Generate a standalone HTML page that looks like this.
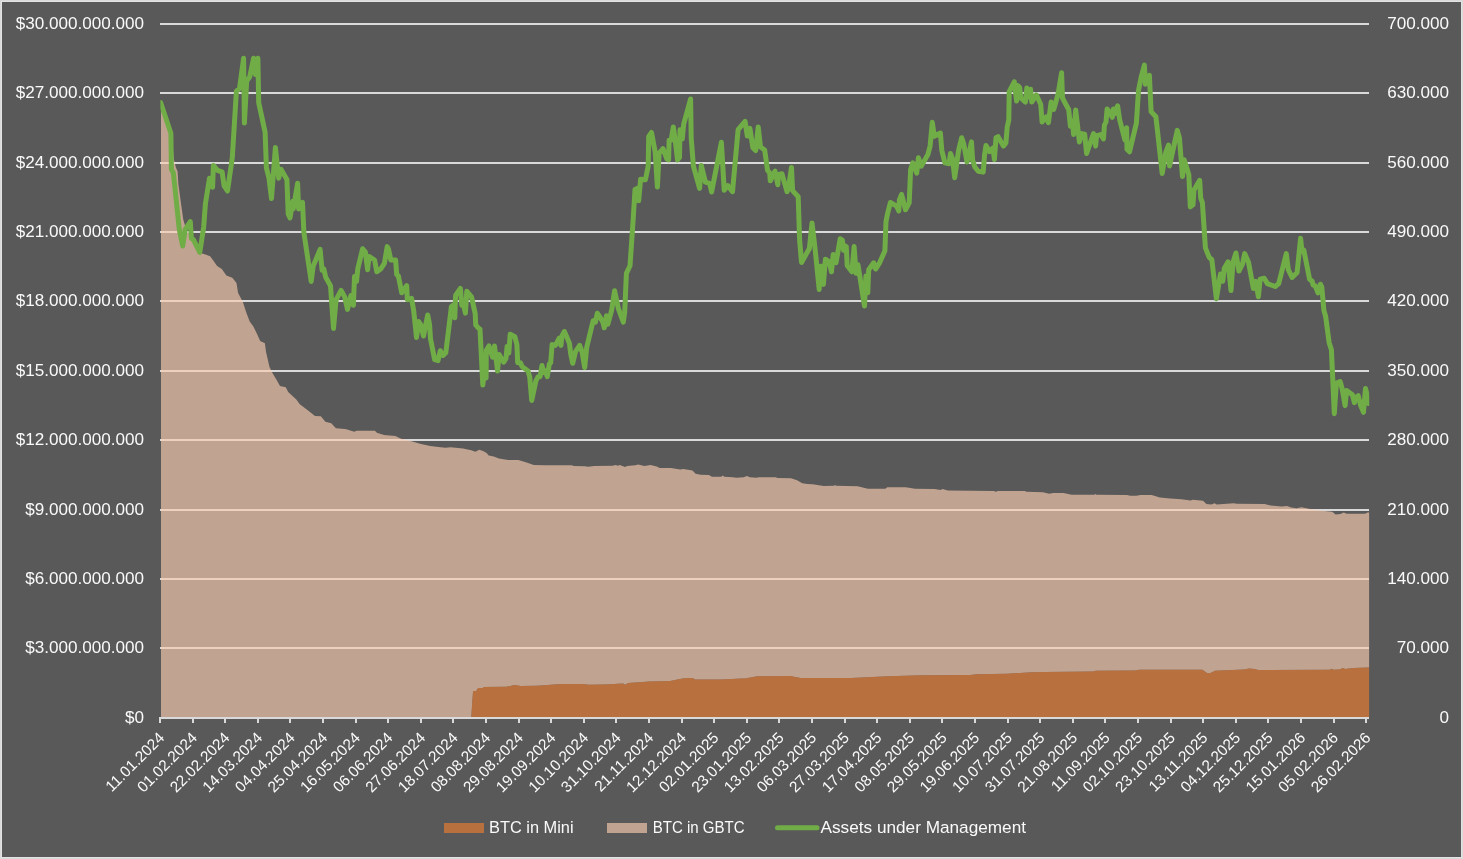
<!DOCTYPE html>
<html><head><meta charset="utf-8"><title>GBTC</title>
<style>
html,body{margin:0;padding:0;background:#595959;overflow:hidden}
svg{display:block;will-change:transform}
text{font-family:"Liberation Sans",sans-serif;font-size:17.1px;fill:#fafafa}
text.d{font-size:15.4px}
</style></head><body>
<svg width="1463" height="859" viewBox="0 0 1463 859">
<rect x="0" y="0" width="1463" height="859" fill="#595959"/>
<rect x="0.5" y="0.5" width="1462" height="858" fill="none" stroke="#dadada" stroke-width="1"/>
<rect x="1.5" y="1.5" width="1460" height="856" fill="none" stroke="#e3e3e3" stroke-width="1"/>
<defs><clipPath id="pc"><rect x="160.4" y="10" width="1208.8" height="708"/></clipPath></defs>
<g stroke="#d9d9d9" stroke-width="2">
<line x1="160.0" y1="24.00" x2="1369.0" y2="24.00"/>
<line x1="160.0" y1="93.00" x2="1369.0" y2="93.00"/>
<line x1="160.0" y1="163.00" x2="1369.0" y2="163.00"/>
<line x1="160.0" y1="232.00" x2="1369.0" y2="232.00"/>
<line x1="160.0" y1="301.00" x2="1369.0" y2="301.00"/>
<line x1="160.0" y1="371.00" x2="1369.0" y2="371.00"/>
<line x1="160.0" y1="440.00" x2="1369.0" y2="440.00"/>
<line x1="160.0" y1="510.00" x2="1369.0" y2="510.00"/>
<line x1="160.0" y1="579.00" x2="1369.0" y2="579.00"/>
<line x1="160.0" y1="648.00" x2="1369.0" y2="648.00"/>
</g>
<polygon fill="#f8cbad" fill-opacity="0.65" points="161.0,103.5 166.0,119.0 171.5,134.0 173.8,159.0 175.9,167.4 177.6,171.6 178.4,184.2 181.2,205.1 183.3,219.8 186.8,231.5 191.7,235.5 195.7,246.5 199.7,252.8 205.5,254.4 210.1,256.3 213.6,261.0 217.1,266.1 221.8,269.1 226.4,275.4 232.3,277.7 236.5,283.1 238.1,293.1 242.8,301.7 246.2,312.2 249.7,321.5 253.2,326.2 256.7,333.2 260.2,340.9 264.9,343.2 266.0,351.8 269.5,367.0 273.0,373.9 276.5,379.8 280.0,386.1 285.8,387.2 288.2,392.1 296.3,399.6 299.8,404.2 306.8,409.6 315.0,415.9 320.8,416.3 325.4,421.7 331.3,423.3 335.9,428.2 345.0,429.1 346.2,429.3 354.4,431.8 356.4,430.8 374.9,430.8 376.9,432.8 384.1,434.9 395.4,435.9 400.5,438.5 410.7,441.0 420.0,443.7 430.2,445.9 440.5,447.2 445.6,447.8 450.7,447.2 463.0,448.6 471.2,450.2 475.3,451.7 479.4,449.8 483.5,451.3 486.6,452.9 488.7,455.4 493.8,456.4 498.9,458.4 508.1,459.9 518.4,460.1 526.6,462.5 533.8,465.0 545.0,465.2 571.7,465.2 573.7,466.0 585.0,466.2 588.1,466.8 594.3,466.0 612.7,465.8 615.8,465.0 617.8,465.8 619.9,465.0 625.0,467.1 627.1,466.0 635.3,465.2 638.2,464.4 644.4,465.9 650.5,464.9 656.7,466.5 659.7,467.9 671.0,468.1 680.2,469.6 683.3,469.0 692.5,470.6 695.6,473.7 700.7,474.7 708.9,475.1 712.0,476.7 721.2,476.7 722.7,475.5 724.3,476.7 732.5,477.2 736.6,477.8 743.8,477.2 746.9,476.1 750.0,477.2 756.1,477.8 759.2,477.2 775.6,477.2 777.6,478.0 791.0,478.2 797.1,480.2 802.2,483.3 807.4,484.1 812.5,484.3 823.8,486.0 834.0,485.8 835.0,485.0 836.1,485.8 857.6,486.2 867.9,488.8 885.3,488.8 887.3,487.2 905.8,487.2 915.0,488.8 934.4,489.0 940.5,490.0 942.6,489.0 947.7,490.6 993.8,491.0 995.9,491.8 997.9,491.0 1024.6,491.0 1026.6,491.8 1043.0,492.2 1049.2,493.7 1053.3,493.1 1063.5,493.1 1071.7,494.7 1094.3,494.7 1095.3,493.9 1096.3,494.7 1127.1,494.9 1130.2,495.7 1136.3,495.7 1140.4,494.9 1151.7,495.1 1159.9,497.6 1170.2,498.4 1181.4,499.2 1190.7,500.4 1192.7,499.8 1203.0,500.7 1206.4,503.9 1211.2,504.4 1214.6,503.2 1216.7,504.4 1233.7,503.2 1236.5,503.8 1264.5,503.9 1270.7,505.5 1281.6,506.6 1287.1,506.0 1291.2,507.6 1296.6,508.3 1301.4,507.2 1310.3,509.0 1324.7,511.0 1332.2,511.7 1335.6,514.4 1340.4,514.0 1343.8,512.4 1346.5,513.7 1365.0,513.7 1367.7,512.4 1369.1,512.4 1369.1,667.4 1369.1,667.4 1353.4,667.9 1345.2,669.0 1342.9,668.1 1339.4,669.5 1333.6,669.7 1331.3,668.8 1330.1,669.7 1258.1,670.0 1254.6,669.0 1248.8,668.6 1244.2,669.5 1215.1,670.7 1210.5,673.0 1207.0,673.0 1202.3,669.7 1139.6,669.7 1134.9,670.4 1095.4,670.7 1093.1,671.4 1045.0,671.9 1032.1,672.2 1007.5,673.8 976.7,674.2 970.5,675.1 923.4,675.3 888.5,676.3 851.6,677.9 800.4,677.9 790.1,676.1 757.3,676.3 745.0,678.5 742.1,678.5 721.6,679.6 694.9,679.6 692.9,678.1 686.7,677.9 682.6,678.5 670.3,681.0 649.8,681.6 628.3,683.1 625.2,684.7 623.1,683.5 604.7,684.5 588.3,684.7 584.2,683.9 561.6,684.1 537.0,685.7 520.6,686.1 514.5,685.1 506.3,686.8 483.8,686.9 482.9,688.0 478.2,688.0 476.1,691.0 473.1,691.0 472.4,700.0 471.3,717.0 471.3,717.0 161.0,717.0"/>
<polygon fill="#ed7d31" fill-opacity="0.65" points="471.3,717.0 472.4,700.0 473.1,691.0 476.1,691.0 478.2,688.0 482.9,688.0 483.8,686.9 506.3,686.8 514.5,685.1 520.6,686.1 537.0,685.7 561.6,684.1 584.2,683.9 588.3,684.7 604.7,684.5 623.1,683.5 625.2,684.7 628.3,683.1 649.8,681.6 670.3,681.0 682.6,678.5 686.7,677.9 692.9,678.1 694.9,679.6 721.6,679.6 742.1,678.5 745.0,678.5 757.3,676.3 790.1,676.1 800.4,677.9 851.6,677.9 888.5,676.3 923.4,675.3 970.5,675.1 976.7,674.2 1007.5,673.8 1032.1,672.2 1045.0,671.9 1093.1,671.4 1095.4,670.7 1134.9,670.4 1139.6,669.7 1202.3,669.7 1207.0,673.0 1210.5,673.0 1215.1,670.7 1244.2,669.5 1248.8,668.6 1254.6,669.0 1258.1,670.0 1330.1,669.7 1331.3,668.8 1333.6,669.7 1339.4,669.5 1342.9,668.1 1345.2,669.0 1353.4,667.9 1369.1,667.4 1369.1,717 471.3,717"/>
<g stroke="#d9d9d9" stroke-width="2">
<line x1="159.0" y1="718" x2="1369.0" y2="718"/>
<line x1="160.0" y1="717" x2="160.0" y2="723"/>
<line x1="193.0" y1="717" x2="193.0" y2="723"/>
<line x1="225.0" y1="717" x2="225.0" y2="723"/>
<line x1="258.0" y1="717" x2="258.0" y2="723"/>
<line x1="290.0" y1="717" x2="290.0" y2="723"/>
<line x1="323.0" y1="717" x2="323.0" y2="723"/>
<line x1="356.0" y1="717" x2="356.0" y2="723"/>
<line x1="388.0" y1="717" x2="388.0" y2="723"/>
<line x1="421.0" y1="717" x2="421.0" y2="723"/>
<line x1="453.0" y1="717" x2="453.0" y2="723"/>
<line x1="486.0" y1="717" x2="486.0" y2="723"/>
<line x1="519.0" y1="717" x2="519.0" y2="723"/>
<line x1="551.0" y1="717" x2="551.0" y2="723"/>
<line x1="584.0" y1="717" x2="584.0" y2="723"/>
<line x1="616.0" y1="717" x2="616.0" y2="723"/>
<line x1="649.0" y1="717" x2="649.0" y2="723"/>
<line x1="682.0" y1="717" x2="682.0" y2="723"/>
<line x1="714.0" y1="717" x2="714.0" y2="723"/>
<line x1="747.0" y1="717" x2="747.0" y2="723"/>
<line x1="779.0" y1="717" x2="779.0" y2="723"/>
<line x1="812.0" y1="717" x2="812.0" y2="723"/>
<line x1="845.0" y1="717" x2="845.0" y2="723"/>
<line x1="877.0" y1="717" x2="877.0" y2="723"/>
<line x1="910.0" y1="717" x2="910.0" y2="723"/>
<line x1="942.0" y1="717" x2="942.0" y2="723"/>
<line x1="975.0" y1="717" x2="975.0" y2="723"/>
<line x1="1008.0" y1="717" x2="1008.0" y2="723"/>
<line x1="1040.0" y1="717" x2="1040.0" y2="723"/>
<line x1="1073.0" y1="717" x2="1073.0" y2="723"/>
<line x1="1105.0" y1="717" x2="1105.0" y2="723"/>
<line x1="1138.0" y1="717" x2="1138.0" y2="723"/>
<line x1="1171.0" y1="717" x2="1171.0" y2="723"/>
<line x1="1203.0" y1="717" x2="1203.0" y2="723"/>
<line x1="1236.0" y1="717" x2="1236.0" y2="723"/>
<line x1="1268.0" y1="717" x2="1268.0" y2="723"/>
<line x1="1301.0" y1="717" x2="1301.0" y2="723"/>
<line x1="1334.0" y1="717" x2="1334.0" y2="723"/>
<line x1="1366.0" y1="717" x2="1366.0" y2="723"/>
</g>
<polyline fill="none" stroke="#70ad47" stroke-width="5" stroke-linejoin="round" stroke-linecap="round" clip-path="url(#pc)" points="160.6,102.5 170.9,133.3 171.4,169.2 173.4,173.0 179.3,229.4 182.7,246.0 185.2,229.4 190.3,221.7 191.4,238.3 193.4,239.6 199.8,252.4 203.7,226.8 205.4,203.8 209.5,178.2 212.6,187.1 213.4,165.4 217.7,170.5 222.1,171.8 224.1,185.8 227.5,191.0 232.3,157.7 236.4,91.1 239.5,88.5 243.6,58.3 244.4,123.1 246.7,80.9 249.7,77.0 253.6,58.3 255.4,74.4 257.9,58.3 258.7,102.6 265.1,132.1 266.4,167.9 269.0,178.2 271.5,198.6 275.4,147.4 278.7,178.2 281.0,169.2 286.9,179.4 288.2,214.0 290.0,217.9 292.8,201.2 293.3,208.9 297.6,183.3 298.6,208.9 302.5,202.5 303.9,232.6 311.2,281.5 313.2,266.1 320.1,249.4 322.1,270.3 323.8,268.9 325.7,277.3 330.5,285.7 333.5,328.4 336.1,299.7 341.1,290.4 344.7,296.9 347.5,309.4 350.9,295.5 353.4,305.3 354.5,276.5 356.5,281.5 357.8,268.9 362.6,248.8 365.4,252.2 367.6,269.8 369.0,256.4 374.6,260.0 376.8,271.7 380.8,268.9 384.4,263.4 387.2,246.6 388.6,249.4 390.8,260.0 395.6,260.0 396.7,274.5 398.4,275.9 401.7,292.7 406.7,285.7 407.3,299.7 411.5,298.3 413.7,310.8 416.5,337.4 418.7,321.5 420.7,324.8 423.5,336.0 427.7,315.0 429.6,324.8 430.5,338.8 434.7,359.7 438.0,360.6 440.3,350.8 443.0,355.5 445.8,352.7 451.4,306.6 452.8,305.3 454.8,317.8 455.6,295.5 460.4,288.5 461.8,305.3 463.4,303.9 465.4,313.1 466.8,291.3 471.5,296.9 475.2,313.6 475.7,324.8 478.0,327.6 480.0,329.2 482.8,385.1 485.0,365.5 486.1,378.1 486.3,350.2 488.9,346.0 492.6,357.2 494.5,346.0 497.6,371.1 499.0,354.4 503.7,362.2 506.0,358.5 507.1,346.5 508.8,353.0 510.2,334.2 514.9,336.8 516.9,344.6 517.7,362.7 520.5,362.7 521.9,366.4 528.0,371.1 529.7,376.7 531.7,400.4 535.9,380.9 538.1,376.7 540.1,376.7 542.0,365.5 543.7,372.5 545.1,370.6 547.3,376.7 549.3,364.1 550.7,362.7 552.1,344.6 555.4,345.4 559.1,338.4 561.0,345.4 561.8,336.2 564.4,331.5 569.4,343.2 570.8,354.4 572.7,363.3 575.5,351.6 579.7,345.4 582.0,351.6 584.7,367.5 586.7,347.4 593.1,320.8 595.4,322.2 597.3,313.3 600.1,317.2 602.9,322.2 604.3,327.8 606.5,315.8 607.9,324.2 611.8,309.7 614.6,290.7 618.3,308.3 623.3,322.2 624.7,312.5 626.4,273.4 630.0,265.8 633.1,220.3 635.0,189.6 637.8,188.2 638.7,200.7 640.6,179.2 645.4,179.8 648.2,166.0 648.7,136.7 651.5,132.5 655.2,152.0 657.4,187.0 659.1,153.4 663.0,148.7 666.9,159.0 668.6,159.9 669.1,140.3 671.1,140.3 673.3,126.9 675.3,140.9 677.5,159.9 679.5,157.6 680.0,129.7 682.3,138.9 683.7,124.1 690.6,99.0 691.2,138.1 693.4,166.0 699.6,188.4 701.3,165.4 705.4,182.2 709.6,183.3 711.6,192.0 721.4,142.3 722.8,166.0 724.2,190.3 727.8,185.6 732.5,191.7 738.1,129.7 745.1,121.3 747.3,136.1 749.9,128.3 752.9,147.8 755.7,150.6 758.2,126.9 760.5,147.0 764.7,150.1 767.5,170.2 769.7,173.0 770.3,180.8 775.0,171.0 777.8,184.7 778.6,174.4 782.0,173.8 787.0,191.7 788.4,188.4 791.5,167.4 792.6,190.6 798.2,196.7 799.6,240.0 801.5,262.4 809.4,248.4 812.0,222.9 815.0,248.0 819.2,289.4 820.6,266.2 822.0,266.2 823.4,284.4 825.4,259.2 829.0,261.5 831.5,271.8 833.2,254.5 836.0,262.8 840.2,238.8 842.4,240.2 843.5,250.3 844.1,245.3 846.3,246.6 847.2,265.6 851.9,271.8 854.1,246.6 856.1,273.2 858.0,264.8 864.5,306.1 865.9,276.0 867.8,292.7 868.7,269.8 873.7,262.8 875.6,269.0 879.3,263.4 884.9,250.8 886.0,221.5 887.7,213.1 890.4,202.5 896.6,206.1 898.8,210.9 899.4,200.0 901.6,194.4 905.5,209.8 909.2,202.8 910.6,169.8 912.8,162.8 916.7,173.2 918.4,157.8 921.2,166.2 927.9,154.5 930.1,146.1 932.3,122.3 934.3,136.3 940.4,133.0 941.8,150.3 944.9,162.8 949.1,163.7 950.5,153.6 952.5,158.7 954.7,177.7 958.6,150.3 961.7,137.7 963.6,143.3 967.0,162.0 971.5,141.9 972.6,160.1 974.8,167.0 978.2,171.2 983.2,172.1 984.6,154.5 986.0,145.5 989.6,151.7 993.0,148.0 994.4,159.5 996.0,137.8 998.1,136.7 1003.4,146.1 1005.9,143.0 1007.2,127.3 1008.8,119.9 1009.2,91.7 1014.3,81.8 1016.6,101.1 1017.6,85.4 1019.7,87.5 1020.8,98.0 1025.4,102.1 1026.8,88.1 1028.5,96.9 1030.6,89.2 1031.7,102.1 1036.3,94.8 1040.7,104.2 1042.1,122.0 1046.3,116.8 1048.4,122.7 1051.1,102.1 1053.7,109.5 1057.9,94.8 1061.6,72.8 1062.5,98.0 1065.2,103.2 1068.7,109.5 1070.4,126.2 1072.5,121.6 1073.6,134.6 1075.7,109.9 1079.4,141.9 1081.9,133.6 1084.7,134.2 1086.6,153.5 1093.5,133.6 1095.6,146.1 1096.6,135.7 1100.8,134.6 1103.5,138.8 1104.4,125.2 1106.0,122.0 1107.1,109.1 1109.8,112.6 1112.3,117.4 1113.4,109.1 1114.8,113.7 1117.6,105.9 1119.7,119.9 1124.9,139.9 1126.6,127.7 1127.0,149.3 1129.5,151.8 1136.4,123.1 1138.5,90.6 1141.2,77.0 1144.4,65.1 1145.4,84.3 1149.4,75.3 1151.1,111.6 1155.9,116.8 1162.2,173.4 1165.8,152.4 1168.5,145.1 1169.5,166.0 1177.3,130.4 1179.4,137.8 1182.5,176.5 1184.2,159.8 1188.8,174.4 1190.3,206.9 1193.0,204.8 1194.0,190.1 1199.7,180.3 1200.7,198.1 1202.4,202.7 1205.4,247.8 1209.2,257.4 1211.8,259.4 1216.4,298.7 1220.5,274.0 1222.8,281.3 1224.3,268.2 1228.1,261.8 1231.0,290.6 1233.0,262.3 1235.9,253.0 1238.9,271.1 1242.6,263.8 1244.7,253.6 1248.5,262.3 1253.4,288.5 1255.7,281.3 1258.4,296.7 1260.1,279.2 1264.2,278.3 1267.4,283.6 1275.2,286.5 1278.7,283.6 1286.3,253.6 1288.3,269.6 1292.1,277.5 1297.1,272.5 1300.6,238.2 1302.0,251.3 1303.8,250.1 1309.6,279.2 1312.2,281.3 1313.1,285.0 1315.1,285.6 1318.0,292.9 1320.4,284.2 1321.8,287.1 1323.9,310.4 1325.6,316.2 1329.1,342.4 1331.4,349.7 1334.3,413.7 1336.4,383.2 1340.2,381.7 1342.2,389.0 1345.1,405.6 1346.6,390.4 1352.4,394.8 1354.4,402.7 1355.3,397.7 1358.2,395.7 1360.5,405.0 1363.5,412.3 1365.5,388.4 1367.8,398.6 1368.4,403.5"/>
<text x="144.1" y="28.8" text-anchor="end">$30.000.000.000</text>
<text x="144.1" y="97.8" text-anchor="end">$27.000.000.000</text>
<text x="144.1" y="167.8" text-anchor="end">$24.000.000.000</text>
<text x="144.1" y="236.8" text-anchor="end">$21.000.000.000</text>
<text x="144.1" y="305.8" text-anchor="end">$18.000.000.000</text>
<text x="144.1" y="375.8" text-anchor="end">$15.000.000.000</text>
<text x="144.1" y="444.8" text-anchor="end">$12.000.000.000</text>
<text x="144.1" y="514.8" text-anchor="end">$9.000.000.000</text>
<text x="144.1" y="583.8" text-anchor="end">$6.000.000.000</text>
<text x="144.1" y="652.8" text-anchor="end">$3.000.000.000</text>
<text x="144.1" y="722.8" text-anchor="end">$0</text>
<text x="1449" y="28.8" text-anchor="end">700.000</text>
<text x="1449" y="97.8" text-anchor="end">630.000</text>
<text x="1449" y="167.8" text-anchor="end">560.000</text>
<text x="1449" y="236.8" text-anchor="end">490.000</text>
<text x="1449" y="305.8" text-anchor="end">420.000</text>
<text x="1449" y="375.8" text-anchor="end">350.000</text>
<text x="1449" y="444.8" text-anchor="end">280.000</text>
<text x="1449" y="514.8" text-anchor="end">210.000</text>
<text x="1449" y="583.8" text-anchor="end">140.000</text>
<text x="1449" y="652.8" text-anchor="end">70.000</text>
<text x="1449" y="722.8" text-anchor="end">0</text>
<text class="d" text-anchor="end" transform="translate(165.4,738.8) rotate(-45)">11.01.2024</text>
<text class="d" text-anchor="end" transform="translate(198.0,738.8) rotate(-45)">01.02.2024</text>
<text class="d" text-anchor="end" transform="translate(230.6,738.8) rotate(-45)">22.02.2024</text>
<text class="d" text-anchor="end" transform="translate(263.2,738.8) rotate(-45)">14.03.2024</text>
<text class="d" text-anchor="end" transform="translate(295.8,738.8) rotate(-45)">04.04.2024</text>
<text class="d" text-anchor="end" transform="translate(328.4,738.8) rotate(-45)">25.04.2024</text>
<text class="d" text-anchor="end" transform="translate(361.0,738.8) rotate(-45)">16.05.2024</text>
<text class="d" text-anchor="end" transform="translate(393.6,738.8) rotate(-45)">06.06.2024</text>
<text class="d" text-anchor="end" transform="translate(426.2,738.8) rotate(-45)">27.06.2024</text>
<text class="d" text-anchor="end" transform="translate(458.8,738.8) rotate(-45)">18.07.2024</text>
<text class="d" text-anchor="end" transform="translate(491.4,738.8) rotate(-45)">08.08.2024</text>
<text class="d" text-anchor="end" transform="translate(524.0,738.8) rotate(-45)">29.08.2024</text>
<text class="d" text-anchor="end" transform="translate(556.6,738.8) rotate(-45)">19.09.2024</text>
<text class="d" text-anchor="end" transform="translate(589.2,738.8) rotate(-45)">10.10.2024</text>
<text class="d" text-anchor="end" transform="translate(621.8,738.8) rotate(-45)">31.10.2024</text>
<text class="d" text-anchor="end" transform="translate(654.4,738.8) rotate(-45)">21.11.2024</text>
<text class="d" text-anchor="end" transform="translate(687.0,738.8) rotate(-45)">12.12.2024</text>
<text class="d" text-anchor="end" transform="translate(719.6,738.8) rotate(-45)">02.01.2025</text>
<text class="d" text-anchor="end" transform="translate(752.2,738.8) rotate(-45)">23.01.2025</text>
<text class="d" text-anchor="end" transform="translate(784.8,738.8) rotate(-45)">13.02.2025</text>
<text class="d" text-anchor="end" transform="translate(817.4,738.8) rotate(-45)">06.03.2025</text>
<text class="d" text-anchor="end" transform="translate(850.0,738.8) rotate(-45)">27.03.2025</text>
<text class="d" text-anchor="end" transform="translate(882.6,738.8) rotate(-45)">17.04.2025</text>
<text class="d" text-anchor="end" transform="translate(915.2,738.8) rotate(-45)">08.05.2025</text>
<text class="d" text-anchor="end" transform="translate(947.8,738.8) rotate(-45)">29.05.2025</text>
<text class="d" text-anchor="end" transform="translate(980.4,738.8) rotate(-45)">19.06.2025</text>
<text class="d" text-anchor="end" transform="translate(1013.0,738.8) rotate(-45)">10.07.2025</text>
<text class="d" text-anchor="end" transform="translate(1045.6,738.8) rotate(-45)">31.07.2025</text>
<text class="d" text-anchor="end" transform="translate(1078.2,738.8) rotate(-45)">21.08.2025</text>
<text class="d" text-anchor="end" transform="translate(1110.8,738.8) rotate(-45)">11.09.2025</text>
<text class="d" text-anchor="end" transform="translate(1143.4,738.8) rotate(-45)">02.10.2025</text>
<text class="d" text-anchor="end" transform="translate(1176.0,738.8) rotate(-45)">23.10.2025</text>
<text class="d" text-anchor="end" transform="translate(1208.6,738.8) rotate(-45)">13.11.2025</text>
<text class="d" text-anchor="end" transform="translate(1241.2,738.8) rotate(-45)">04.12.2025</text>
<text class="d" text-anchor="end" transform="translate(1273.8,738.8) rotate(-45)">25.12.2025</text>
<text class="d" text-anchor="end" transform="translate(1306.4,738.8) rotate(-45)">15.01.2026</text>
<text class="d" text-anchor="end" transform="translate(1339.0,738.8) rotate(-45)">05.02.2026</text>
<text class="d" text-anchor="end" transform="translate(1371.6,738.8) rotate(-45)">26.02.2026</text>
<rect x="444" y="823" width="40" height="10" fill="#ed7d31" fill-opacity="0.65"/>
<text x="489" y="833" textLength="84.6" lengthAdjust="spacingAndGlyphs">BTC in Mini</text>
<rect x="607" y="823" width="40" height="10" fill="#f8cbad" fill-opacity="0.65"/>
<text x="652.7" y="833" textLength="92" lengthAdjust="spacingAndGlyphs">BTC in GBTC</text>
<line x1="777.5" y1="827.7" x2="817" y2="827.7" stroke="#70ad47" stroke-width="5" stroke-linecap="round"/>
<text x="820.5" y="833" textLength="205.5" lengthAdjust="spacingAndGlyphs">Assets under Management</text>
</svg>
</body></html>
